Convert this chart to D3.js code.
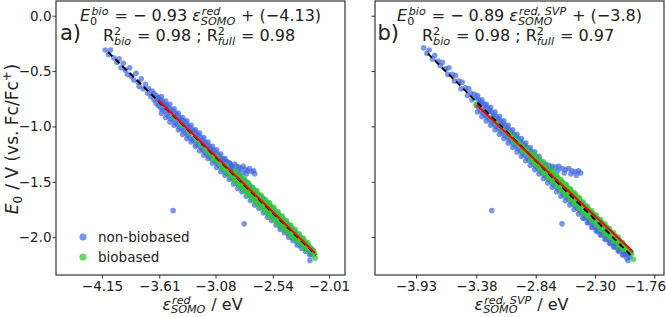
<!DOCTYPE html>
<html><head><meta charset="utf-8">
<script src="https://cdn.jsdelivr.net/npm/d3@7"></script>
<style>
body{margin:0;background:#fff}
svg{display:block}
text{font-family:"DejaVu Sans",sans-serif;fill:#222}
</style>
</head><body>
<svg id="c" width="666" height="317"></svg>
<script>
// ---------------- data ----------------
const yTicks = [0.0, -0.5, -1.0, -1.5, -2.0];
const xTicksA = [-4.15, -3.61, -3.08, -2.54, -2.01];
const xTicksB = [-3.93, -3.38, -2.84, -2.30, -1.76];
const xDomainA = [-4.584, -1.859];
const xDomainB = [-4.303, -1.672];
const yDomain = [-2.342, 0.133];
const seriesNames = ["non-biobased", "biobased"];

// regression lines (endpoints, data units)
const fullFitA = [[-4.093, -0.328], [-2.132, -2.162]];
const bioFitA  = [[-3.622, -0.761], [-2.142, -2.144]];
const fullFitB = [[-3.823, -0.340], [-1.975, -2.162]];
const bioFitB  = [[-3.377, -0.807], [-1.954, -2.132]];

// panel a: non-biobased
const blueA = [
[-4.12,-0.31],[-4.09,-0.35],[-4.07,-0.31],[-4.04,-0.38],[-4.01,-0.42],[-3.99,-0.39],[-3.97,-0.47],[-3.95,-0.43],[-3.93,-0.49],[-3.91,-0.53],[-3.89,-0.47],[-3.87,-0.55],[-3.85,-0.58],[-3.83,-0.52],[-3.81,-0.60],[-3.80,-0.64],[-3.78,-0.57],[-3.76,-0.66],[-3.74,-0.62],[-3.72,-0.70],[-3.71,-0.66],[-3.69,-0.73],[-3.68,-0.68],
[-3.66,-0.70],[-3.66,-0.76],[-3.64,-0.72],[-3.64,-0.79],[-3.63,-0.75],[-3.62,-0.74],[-3.62,-0.81],[-3.60,-0.76],[-3.60,-0.83],[-3.59,-0.79],[-3.58,-0.77],[-3.58,-0.85],
[-3.56,-0.80],[-3.56,-0.86],[-3.55,-0.82],[-3.54,-0.81],[-3.54,-0.89],[-3.52,-0.83],[-3.52,-0.91],[-3.51,-0.87],[-3.50,-0.85],[-3.50,-0.93],
[-3.48,-0.86],[-3.48,-0.94],[-3.47,-0.90],[-3.46,-0.88],[-3.46,-0.97],[-3.44,-0.90],[-3.44,-0.98],[-3.43,-0.94],[-3.42,-0.92],[-3.42,-1.01],
[-3.40,-0.94],[-3.40,-1.02],[-3.39,-0.98],[-3.38,-0.95],[-3.38,-1.04],[-3.36,-0.97],[-3.36,-1.06],[-3.35,-1.01],[-3.34,-0.99],[-3.34,-1.08],
[-3.32,-1.01],[-3.32,-1.10],[-3.31,-1.05],[-3.30,-1.03],[-3.30,-1.12],[-3.28,-1.04],[-3.28,-1.13],[-3.27,-1.09],[-3.26,-1.06],[-3.26,-1.16],
[-3.24,-1.08],[-3.24,-1.17],[-3.23,-1.13],[-3.22,-1.10],[-3.22,-1.19],[-3.20,-1.12],[-3.20,-1.21],[-3.19,-1.16],[-3.18,-1.14],[-3.18,-1.23],
[-3.16,-1.16],[-3.16,-1.25],[-3.15,-1.20],[-3.14,-1.18],[-3.14,-1.27],[-3.12,-1.20],[-3.12,-1.29],[-3.11,-1.24],[-3.10,-1.21],[-3.10,-1.30],
[-3.08,-1.23],[-3.08,-1.32],[-3.07,-1.28],[-3.06,-1.25],[-3.06,-1.34],
[-3.04,-1.27],[-3.04,-1.36],[-3.03,-1.31],[-3.02,-1.29],[-3.02,-1.38],[-3.00,-1.30],[-3.00,-1.40],[-2.99,-1.35],[-2.98,-1.32],[-2.98,-1.42],
[-2.96,-1.34],[-2.96,-1.43],[-2.95,-1.39],[-2.94,-1.36],[-2.94,-1.46],[-2.92,-1.38],[-2.92,-1.47],[-2.91,-1.43],[-2.90,-1.40],[-2.90,-1.49],
[-2.88,-1.42],[-2.88,-1.51],[-2.87,-1.46],[-2.86,-1.44],[-2.86,-1.53],[-2.84,-1.46],[-2.84,-1.55],[-2.83,-1.50],[-2.82,-1.48],[-2.82,-1.57],
[-2.80,-1.49],[-2.80,-1.58],[-2.79,-1.54],[-2.78,-1.51],[-2.78,-1.60],[-2.76,-1.53],[-2.76,-1.62],[-2.75,-1.57],[-2.74,-1.55],[-2.74,-1.64],
[-2.72,-1.57],[-2.72,-1.66],[-2.71,-1.61],[-2.70,-1.59],[-2.70,-1.68],[-2.68,-1.61],[-2.68,-1.70],[-2.67,-1.65],[-2.66,-1.63],[-2.66,-1.71],
[-2.64,-1.64],[-2.64,-1.73],[-2.63,-1.69],[-2.62,-1.66],[-2.62,-1.75],[-2.60,-1.68],[-2.60,-1.77],[-2.59,-1.72],[-2.58,-1.70],[-2.58,-1.79],
[-2.56,-1.72],[-2.56,-1.81],[-2.55,-1.76],[-2.54,-1.74],[-2.54,-1.82],[-2.52,-1.76],[-2.52,-1.84],[-2.51,-1.80],[-2.50,-1.78],[-2.50,-1.86],
[-2.48,-1.80],[-2.48,-1.89],[-2.46,-1.82],[-2.46,-1.91],[-2.45,-1.86],[-2.44,-1.84],[-2.44,-1.92],[-2.42,-1.86],[-2.42,-1.94],[-2.41,-1.90],
[-2.40,-1.88],[-2.40,-1.96],[-2.38,-1.90],[-2.38,-1.98],[-2.37,-1.94],[-2.36,-1.92],[-2.36,-2.00],[-2.34,-1.94],[-2.34,-2.01],[-2.33,-1.97],
[-2.32,-1.96],[-2.32,-2.03],[-2.30,-1.98],[-2.30,-2.05],[-2.28,-2.00],[-2.28,-2.07],[-2.26,-2.02],[-2.26,-2.08],[-2.24,-2.04],[-2.24,-2.10],
[-2.22,-2.06],[-2.22,-2.11],[-2.20,-2.08],[-2.20,-2.13],[-2.18,-2.10],[-2.18,-2.15],[-2.16,-2.12],[-2.16,-2.16],[-2.19,-2.21],
[-3.59,-0.73],[-3.55,-0.77],[-3.51,-0.80],[-3.47,-0.84],[-3.43,-0.88],[-3.39,-0.92],[-3.35,-0.95],[-3.31,-0.99],[-3.27,-1.03],[-3.23,-1.06],
[-3.19,-1.10],[-3.15,-1.14],[-3.11,-1.18],[-3.07,-1.21],[-3.03,-1.25],[-2.99,-1.29],[-2.95,-1.33],
[-3.59,-0.88],[-3.55,-0.92],[-3.51,-0.96],[-3.47,-0.99],[-3.43,-1.03],[-3.39,-1.07],[-3.35,-1.11],[-3.31,-1.14],[-3.27,-1.18],[-3.23,-1.22],
[-3.19,-1.26],[-3.15,-1.29],[-3.11,-1.33],[-3.07,-1.37],[-3.03,-1.41],[-2.99,-1.44],[-2.95,-1.48],[-2.91,-1.52],[-2.87,-1.56],[-2.83,-1.59],
[-2.79,-1.63],[-2.75,-1.67],[-2.71,-1.71],[-2.67,-1.74],[-2.63,-1.78],[-2.59,-1.82],[-2.55,-1.85],[-2.51,-1.89],[-2.47,-1.93],[-2.43,-1.96],
[-2.39,-2.00],[-2.35,-2.03],[-2.31,-2.07],[-2.27,-2.10],[-2.23,-2.13],[-2.19,-2.16],
[-3.00,-1.31],[-2.97,-1.32],[-2.95,-1.33],[-2.93,-1.35],[-2.90,-1.34],[-2.88,-1.36],[-2.86,-1.37],[-2.84,-1.38],[-2.82,-1.36],[-2.80,-1.39],
[-2.78,-1.40],[-2.76,-1.38],[-2.74,-1.41],[-2.72,-1.40],[-2.71,-1.43],[-2.92,-1.38],[-2.87,-1.40],[-2.83,-1.42],[-2.79,-1.43],
[-3.48,-1.76],[-2.81,-1.88]
];
// panel a: biobased
const greenA = [
[-3.48,-0.92],[-3.40,-0.99],[-3.33,-1.06],[-3.26,-1.12],[-3.22,-1.17],[-3.17,-1.22],[-3.13,-1.25],
[-3.10,-1.27],[-3.10,-1.30],[-3.08,-1.29],[-3.06,-1.31],[-3.06,-1.28],[-3.04,-1.33],[-3.02,-1.35],[-3.02,-1.38],[-3.00,-1.37],
[-2.98,-1.38],[-2.98,-1.35],[-2.98,-1.41],[-2.96,-1.40],[-2.94,-1.42],[-2.94,-1.45],[-2.92,-1.44],
[-2.90,-1.45],[-2.90,-1.42],[-2.90,-1.48],[-2.88,-1.47],[-2.86,-1.49],[-2.86,-1.46],[-2.86,-1.52],[-2.84,-1.51],
[-2.82,-1.53],[-2.82,-1.50],[-2.82,-1.56],[-2.80,-1.55],[-2.78,-1.56],[-2.78,-1.53],[-2.78,-1.59],[-2.76,-1.58],
[-2.74,-1.60],[-2.74,-1.57],[-2.74,-1.63],[-2.72,-1.62],[-2.70,-1.64],[-2.70,-1.61],[-2.70,-1.67],[-2.70,-1.59],[-2.68,-1.65],
[-2.66,-1.67],[-2.66,-1.64],[-2.66,-1.71],[-2.66,-1.63],[-2.64,-1.69],[-2.62,-1.71],[-2.62,-1.68],[-2.62,-1.74],[-2.62,-1.67],[-2.60,-1.73],
[-2.58,-1.75],[-2.58,-1.72],[-2.58,-1.78],[-2.58,-1.70],[-2.56,-1.76],[-2.54,-1.78],[-2.54,-1.75],[-2.54,-1.81],[-2.54,-1.74],[-2.52,-1.80],
[-2.50,-1.82],[-2.50,-1.79],[-2.50,-1.85],[-2.48,-1.84],[-2.46,-1.86],[-2.46,-1.83],[-2.46,-1.88],[-2.44,-1.87],
[-2.42,-1.89],[-2.42,-1.87],[-2.42,-1.92],[-2.40,-1.91],[-2.38,-1.93],[-2.38,-1.91],[-2.38,-1.95],[-2.36,-1.95],
[-2.34,-1.97],[-2.34,-1.95],[-2.34,-1.99],[-2.32,-1.98],[-2.30,-2.00],[-2.30,-1.99],[-2.30,-2.02],[-2.28,-2.02],
[-2.26,-2.04],[-2.26,-2.03],[-2.26,-2.06],[-2.24,-2.06],[-2.22,-2.08],[-2.22,-2.07],[-2.20,-2.10],
[-2.18,-2.12],[-2.18,-2.10],[-2.16,-2.13],[-2.15,-2.14],[-2.15,-2.16],[-2.14,-2.19],
[-2.89,-1.40],[-2.85,-1.44],[-2.81,-1.47],[-2.77,-1.51],[-2.73,-1.55],[-2.69,-1.58],[-2.65,-1.62],[-2.61,-1.66],[-2.57,-1.69],
[-2.53,-1.73],[-2.49,-1.77],[-2.45,-1.81],[-2.41,-1.85],[-2.37,-1.89],[-2.33,-1.93],[-2.29,-1.97],[-2.25,-2.01],[-2.21,-2.05],
[-2.89,-1.50],[-2.85,-1.54],[-2.81,-1.58],[-2.77,-1.62],[-2.73,-1.66],[-2.69,-1.70],[-2.65,-1.73],[-2.61,-1.77],[-2.57,-1.81],
[-2.53,-1.84],[-2.49,-1.88],[-2.45,-1.92],[-2.41,-1.95],[-2.37,-1.99],[-2.33,-2.02],[-2.29,-2.05],[-2.25,-2.09],[-2.21,-2.12]
];
// panel b: non-biobased
const blueB = [
[-3.86,-0.29],[-3.83,-0.34],[-3.81,-0.31],[-3.78,-0.39],[-3.76,-0.36],[-3.73,-0.41],[-3.71,-0.45],[-3.69,-0.42],[-3.66,-0.48],[-3.64,-0.53],[-3.63,-0.47],
[-3.60,-0.53],[-3.58,-0.59],[-3.57,-0.54],[-3.54,-0.59],[-3.52,-0.66],[-3.51,-0.60],[-3.48,-0.65],[-3.46,-0.72],[-3.45,-0.66],[-3.43,-0.70],[-3.42,-0.76],[-3.40,-0.71],
[-3.38,-0.74],[-3.38,-0.81],[-3.36,-0.76],[-3.36,-0.83],[-3.35,-0.79],[-3.34,-0.78],[-3.34,-0.86],[-3.32,-0.79],[-3.32,-0.88],[-3.31,-0.84],
[-3.30,-0.81],[-3.30,-0.90],[-3.28,-0.83],[-3.28,-0.92],[-3.27,-0.87],[-3.26,-0.85],[-3.26,-0.94],[-3.24,-0.87],[-3.24,-0.96],[-3.23,-0.91],
[-3.22,-0.89],[-3.22,-0.98],[-3.20,-0.91],[-3.20,-1.00],[-3.19,-0.95],[-3.18,-0.93],[-3.18,-1.02],[-3.16,-0.95],[-3.16,-1.04],[-3.15,-0.99],
[-3.14,-0.97],[-3.14,-1.06],[-3.12,-0.99],[-3.12,-1.08],[-3.11,-1.03],[-3.10,-1.01],[-3.10,-1.10],[-3.08,-1.03],[-3.08,-1.12],[-3.07,-1.07],
[-3.06,-1.05],[-3.06,-1.14],[-3.04,-1.07],[-3.04,-1.16],[-3.03,-1.11],[-3.02,-1.09],[-3.02,-1.18],[-3.00,-1.11],[-3.00,-1.20],[-2.99,-1.15],
[-2.98,-1.13],[-2.98,-1.22],[-2.96,-1.15],[-2.96,-1.24],[-2.95,-1.19],[-2.94,-1.17],[-2.94,-1.26],[-2.92,-1.19],[-2.92,-1.28],[-2.91,-1.23],
[-2.90,-1.21],[-2.90,-1.30],[-2.88,-1.23],[-2.88,-1.32],[-2.87,-1.27],[-2.86,-1.25],[-2.86,-1.34],[-2.84,-1.27],[-2.84,-1.36],[-2.83,-1.31],
[-2.82,-1.29],[-2.82,-1.38],[-2.80,-1.31],[-2.80,-1.40],[-2.79,-1.35],[-2.78,-1.33],[-2.78,-1.42],[-2.76,-1.35],[-2.76,-1.44],[-2.75,-1.39],
[-2.74,-1.37],[-2.74,-1.46],[-2.72,-1.39],[-2.72,-1.48],[-2.71,-1.43],[-2.70,-1.41],[-2.70,-1.50],[-2.68,-1.43],[-2.68,-1.52],[-2.67,-1.47],
[-2.66,-1.45],[-2.66,-1.54],[-2.64,-1.47],[-2.64,-1.56],[-2.63,-1.51],[-2.62,-1.49],[-2.62,-1.58],[-2.60,-1.51],[-2.60,-1.60],[-2.59,-1.55],
[-2.58,-1.53],[-2.58,-1.62],[-2.56,-1.55],[-2.56,-1.64],[-2.55,-1.59],[-2.54,-1.57],[-2.54,-1.66],[-2.52,-1.59],[-2.52,-1.68],[-2.51,-1.62],
[-2.50,-1.61],[-2.50,-1.70],[-2.48,-1.63],[-2.48,-1.72],[-2.47,-1.66],[-2.46,-1.65],[-2.46,-1.74],[-2.44,-1.67],[-2.44,-1.76],[-2.43,-1.70],
[-2.42,-1.69],[-2.42,-1.78],[-2.40,-1.71],[-2.40,-1.80],[-2.39,-1.74],[-2.38,-1.73],[-2.38,-1.82],[-2.36,-1.75],[-2.36,-1.84],[-2.35,-1.78],
[-2.34,-1.77],[-2.34,-1.86],[-2.32,-1.79],[-2.32,-1.88],[-2.31,-1.82],[-2.30,-1.81],[-2.30,-1.90],[-2.28,-1.83],[-2.28,-1.92],
[-2.26,-1.85],[-2.26,-1.94],[-2.24,-1.87],[-2.24,-1.95],[-2.22,-1.89],[-2.22,-1.97],[-2.20,-1.91],[-2.20,-1.99],[-2.18,-1.93],[-2.18,-2.01],
[-2.16,-1.95],[-2.16,-2.03],[-2.14,-1.97],[-2.14,-2.05],[-2.12,-1.99],[-2.12,-2.06],[-2.10,-2.01],[-2.10,-2.08],[-2.08,-2.03],[-2.08,-2.10],
[-2.06,-2.05],[-2.06,-2.11],[-2.04,-2.07],[-2.04,-2.13],[-2.02,-2.09],[-2.02,-2.15],[-2.00,-2.11],[-2.00,-2.16],[-1.98,-2.14],[-1.98,-2.18],[-2.00,-2.21],
[-2.40,-1.83],[-2.36,-1.87],[-2.32,-1.91],[-2.28,-1.95],[-2.24,-1.98],[-2.20,-2.02],[-2.16,-2.06],[-2.12,-2.09],[-2.08,-2.13],[-2.04,-2.16],
[-3.37,-0.72],[-3.33,-0.76],[-3.29,-0.80],[-3.25,-0.83],[-3.21,-0.87],[-3.17,-0.91],[-3.13,-0.95],[-3.09,-0.99],[-3.05,-1.03],[-3.01,-1.07],
[-2.97,-1.11],[-2.93,-1.15],[-2.89,-1.19],[-2.85,-1.23],[-2.81,-1.27],
[-3.37,-0.87],[-3.33,-0.91],[-3.29,-0.95],[-3.25,-0.99],[-3.21,-1.03],[-3.17,-1.07],[-3.13,-1.11],[-3.09,-1.15],[-3.05,-1.19],[-3.01,-1.23],
[-2.97,-1.27],[-2.93,-1.31],[-2.89,-1.35],[-2.85,-1.39],[-2.81,-1.43],[-2.77,-1.47],[-2.73,-1.51],[-2.69,-1.55],[-2.65,-1.59],[-2.61,-1.63],
[-2.57,-1.67],[-2.53,-1.71],[-2.49,-1.75],[-2.45,-1.79],[-2.41,-1.83],[-2.37,-1.87],[-2.33,-1.91],[-2.29,-1.94],[-2.25,-1.98],[-2.21,-2.02],
[-2.17,-2.05],[-2.13,-2.09],[-2.09,-2.12],[-2.05,-2.16],[-2.01,-2.19],
[-2.78,-1.33],[-2.75,-1.34],[-2.72,-1.35],[-2.69,-1.36],[-2.66,-1.37],[-2.63,-1.36],[-2.60,-1.38],[-2.57,-1.39],[-2.54,-1.38],[-2.51,-1.40],
[-2.48,-1.41],[-2.45,-1.40],[-2.43,-1.42],[-2.70,-1.39],[-2.64,-1.40],[-2.58,-1.42],[-2.52,-1.43],[-2.47,-1.44],
[-3.24,-1.76],[-2.60,-1.88]
];
// panel b: biobased
const greenB = [
[-3.38,-0.80],[-3.30,-0.87],[-3.24,-0.93],[-3.20,-0.97],[-3.15,-1.02],[-3.11,-1.05],
[-3.08,-1.08],[-3.08,-1.06],[-3.06,-1.09],[-3.04,-1.12],[-3.04,-1.10],[-3.04,-1.14],[-3.02,-1.13],[-3.00,-1.16],[-3.00,-1.14],[-2.98,-1.17],
[-2.96,-1.20],[-2.96,-1.18],[-2.96,-1.22],[-2.94,-1.21],[-2.92,-1.24],[-2.92,-1.21],[-2.90,-1.25],
[-2.88,-1.28],[-2.88,-1.25],[-2.88,-1.30],[-2.86,-1.29],[-2.84,-1.32],[-2.84,-1.29],[-2.84,-1.34],[-2.82,-1.33],
[-2.80,-1.36],[-2.80,-1.33],[-2.80,-1.38],[-2.78,-1.37],[-2.76,-1.39],[-2.76,-1.37],[-2.76,-1.42],[-2.74,-1.41],
[-2.72,-1.43],[-2.72,-1.40],[-2.72,-1.46],[-2.70,-1.44],[-2.68,-1.47],[-2.68,-1.44],[-2.68,-1.49],[-2.68,-1.42],[-2.66,-1.46],
[-2.64,-1.50],[-2.64,-1.48],[-2.64,-1.53],[-2.64,-1.46],[-2.62,-1.51],[-2.60,-1.54],[-2.60,-1.51],[-2.60,-1.57],[-2.60,-1.50],[-2.58,-1.55],
[-2.56,-1.58],[-2.56,-1.55],[-2.56,-1.61],[-2.56,-1.53],[-2.54,-1.59],[-2.52,-1.62],[-2.52,-1.59],[-2.52,-1.64],[-2.52,-1.57],[-2.50,-1.63],
[-2.48,-1.66],[-2.48,-1.63],[-2.48,-1.68],[-2.48,-1.61],[-2.46,-1.67],[-2.44,-1.70],[-2.44,-1.67],[-2.44,-1.72],[-2.44,-1.65],[-2.42,-1.71],
[-2.40,-1.74],[-2.40,-1.71],[-2.40,-1.76],[-2.38,-1.75],[-2.36,-1.77],[-2.36,-1.75],[-2.36,-1.80],[-2.34,-1.79],
[-2.32,-1.81],[-2.32,-1.79],[-2.32,-1.84],[-2.30,-1.83],[-2.28,-1.85],[-2.28,-1.83],[-2.28,-1.87],[-2.26,-1.86],
[-2.24,-1.89],[-2.24,-1.87],[-2.24,-1.91],[-2.22,-1.90],[-2.20,-1.93],[-2.20,-1.91],[-2.20,-1.95],[-2.18,-1.94],
[-2.16,-1.97],[-2.16,-1.95],[-2.16,-1.99],[-2.14,-1.98],[-2.12,-2.01],[-2.12,-1.99],[-2.12,-2.03],[-2.10,-2.02],
[-2.08,-2.05],[-2.08,-2.03],[-2.06,-2.06],[-2.04,-2.09],[-2.04,-2.07],[-2.02,-2.10],[-2.00,-2.12],[-2.00,-2.11],[-1.97,-2.15],[-1.97,-2.14],[-1.95,-2.20],
[-2.85,-1.25],[-2.81,-1.29],[-2.77,-1.32],[-2.73,-1.36],[-2.69,-1.40],[-2.65,-1.44],[-2.61,-1.48],[-2.57,-1.52],[-2.53,-1.56],[-2.49,-1.60],
[-2.45,-1.64],[-2.41,-1.68],[-2.37,-1.72],[-2.33,-1.76],[-2.29,-1.80],[-2.25,-1.84],[-2.21,-1.88],[-2.17,-1.92],[-2.13,-1.96],[-2.09,-2.00],[-2.05,-2.05],
[-2.85,-1.33],[-2.81,-1.37],[-2.77,-1.42],[-2.73,-1.46],[-2.69,-1.50],[-2.65,-1.54],[-2.61,-1.58],[-2.57,-1.62],[-2.53,-1.66],[-2.49,-1.70],
[-2.45,-1.74],[-2.41,-1.78],[-2.37,-1.81],[-2.33,-1.85],[-2.29,-1.89],[-2.25,-1.93],[-2.21,-1.97],[-2.17,-2.00],[-2.13,-2.04],[-2.09,-2.08],[-2.05,-2.11]
];

// ---------------- drawing ----------------
const svg = d3.select("#c");
const y = d3.scaleLinear().domain(yDomain).range([275, 1]);
const COL_BLUE = "#4169e1", COL_GREEN = "#32cd32";
const fmt2 = d => (d < 0 ? "\u2212" : "") + Math.abs(d).toFixed(2);
const fmt1 = d => (d < 0 ? "\u2212" : "") + Math.abs(d).toFixed(1);

function mathText(parent, segs, size, x, yy, anchor, subOff) {
  const g = parent.append("g");
  const ss = size * 0.7;
  const so = subOff === undefined ? 0.24 : subOff;
  let cx = 0;
  for (const s of segs) {
    if (typeof s === "string" || s.t !== undefined) {
      const t = typeof s === "string" ? s : s.t;
      const el = g.append("text").attr("x", cx).attr("y", 0).attr("font-size", size)
        .style("white-space", "pre").attr("font-style", s.it ? "italic" : null).text(t);
      cx += el.node().getComputedTextLength();
    } else {
      let w = 0;
      if (s.sup !== undefined) {
        const dx = s.supDx || 0;
        const e = g.append("text").attr("x", cx + dx).attr("y", -size * 0.4).attr("font-size", ss)
          .style("white-space", "pre").attr("font-style", s.supIt ? "italic" : null).text(s.sup);
        w = Math.max(w, e.node().getComputedTextLength() + dx);
      }
      if (s.sub !== undefined) {
        const e = g.append("text").attr("x", cx).attr("y", size * so).attr("font-size", ss)
          .style("white-space", "pre").attr("font-style", s.subIt ? "italic" : null).text(s.sub);
        w = Math.max(w, e.node().getComputedTextLength());
      }
      cx += w + size * 0.05;
    }
  }
  const off = anchor === "middle" ? -cx / 2 : anchor === "end" ? -cx : 0;
  g.attr("transform", `translate(${x + off},${yy})`);
  return g;
}

const panels = [
  { x0: 56, x1: 345, dom: xDomainA, ticks: xTicksA, blue: blueA, green: greenA, full: fullFitA, bio: bioFitA,
    tag: "a)", slope: "0.93", icpt: "(\u22124.13)", sup: "red", r2full: "0.98", yLabels: true },
  { x0: 375, x1: 664, dom: xDomainB, ticks: xTicksB, blue: blueB, green: greenB, full: fullFitB, bio: bioFitB,
    tag: "b)", slope: "0.89", icpt: "(\u22123.8)", sup: "red, SVP", r2full: "0.97", yLabels: false }
];

panels.forEach((p, i) => {
  const x = d3.scaleLinear().domain(p.dom).range([p.x0, p.x1]);
  const g = svg.append("g");
  const clipId = "clip" + i;
  svg.append("clipPath").attr("id", clipId).append("rect")
    .attr("x", p.x0).attr("y", 1).attr("width", p.x1 - p.x0).attr("height", 274);
  const plot = g.append("g").attr("clip-path", `url(#${clipId})`);

  plot.append("g").selectAll("circle").data(p.blue).join("circle")
    .attr("cx", d => x(d[0])).attr("cy", d => y(d[1])).attr("r", 2.8)
    .attr("fill", COL_BLUE).attr("fill-opacity", 0.7);
  plot.append("g").selectAll("circle").data(p.green).join("circle")
    .attr("cx", d => x(d[0])).attr("cy", d => y(d[1])).attr("r", 2.8)
    .attr("fill", COL_GREEN).attr("fill-opacity", 0.75);

  const line = d3.line().x(d => x(d[0])).y(d => y(d[1]));
  plot.append("path").attr("d", line(p.full)).attr("fill", "none")
    .attr("stroke", "#000").attr("stroke-width", 2).attr("stroke-dasharray", "6,4");
  plot.append("path").attr("d", line(p.bio)).attr("fill", "none")
    .attr("stroke", "#ff0000").attr("stroke-width", 2);

  // axes
  const xa = g.append("g").attr("transform", "translate(0,275)")
    .call(d3.axisBottom(x).tickValues(p.ticks).tickFormat(fmt2).tickSize(3.5).tickPadding(3));
  xa.select(".domain").remove();
  xa.selectAll("line").attr("stroke", "#333");
  xa.selectAll("text").attr("font-size", 13.5).attr("font-family", "DejaVu Sans").attr("fill", "#222");
  if (i === 1) {
    const last = xa.selectAll(".tick").filter(d => d === p.ticks[p.ticks.length - 1]).select("text");
    last.attr("dx", 645 - x(p.ticks[p.ticks.length - 1]));
  }

  const ya = g.append("g").attr("transform", `translate(${p.x0},0)`)
    .call(d3.axisLeft(y).tickValues(yTicks).tickFormat(p.yLabels ? fmt1 : () => "").tickSize(3.5).tickPadding(1));
  ya.select(".domain").remove();
  ya.selectAll("line").attr("stroke", "#333");
  ya.selectAll("text").attr("font-size", 13.5).attr("font-family", "DejaVu Sans").attr("fill", "#222");

  // frame
  g.append("rect").attr("x", p.x0).attr("y", 1).attr("width", p.x1 - p.x0).attr("height", 274)
    .attr("fill", "none").attr("stroke", "#333").attr("stroke-width", 1.2);

  const cx = (p.x0 + p.x1) / 2;
  // equation
  mathText(g, [
    { t: "E", it: true }, { sup: "bio", supIt: true, sub: "0", supDx: 1.5 },
    " = \u2212 " + p.slope + " ", { t: "\u03b5", it: true },
    { sup: p.sup, supIt: true, sub: "SOMO", subIt: true, supDx: 1 },
    " + " + p.icpt
  ], 16, cx, 21, "middle");
  mathText(g, [
    "R", { sup: "2", sub: "bio", subIt: true }, " = 0.98 ; R", { sup: "2", sub: "full", subIt: true },
    " = " + p.r2full
  ], 16, cx - 1.5, 41, "middle");
  g.append("text").attr("x", p.x0 + (i === 0 ? 4 : 2.5)).attr("y", 40)
    .attr("font-family", "Liberation Serif").attr("font-size", 21).text(p.tag);

  // x label
  mathText(g, [{ t: "\u03b5", it: true }, { sup: p.sup, supIt: true, sub: "SOMO", subIt: true, supDx: 1 }, " / eV"],
    16, cx + 2, 310, "middle", 0.2);
});

// y label
const yl = svg.append("g").attr("transform", "translate(18,139) rotate(-90)");
mathText(yl, [{ t: "E", it: true }, { sub: "0" }, " / V (vs. Fc/Fc", { sup: "+" }, ")"], 17, 0, 0, "middle");

// legend
const leg = svg.append("g");
[[COL_BLUE, 237, 0.7], [COL_GREEN, 257, 0.75]].forEach((c, k) => {
  leg.append("circle").attr("cx", 83).attr("cy", c[1]).attr("r", 3.6).attr("fill", c[0]).attr("fill-opacity", c[2]);
  leg.append("text").attr("x", 98).attr("y", c[1] + 4.8).attr("font-size", 13.5).text(seriesNames[k]);
});
</script>
</body></html>
